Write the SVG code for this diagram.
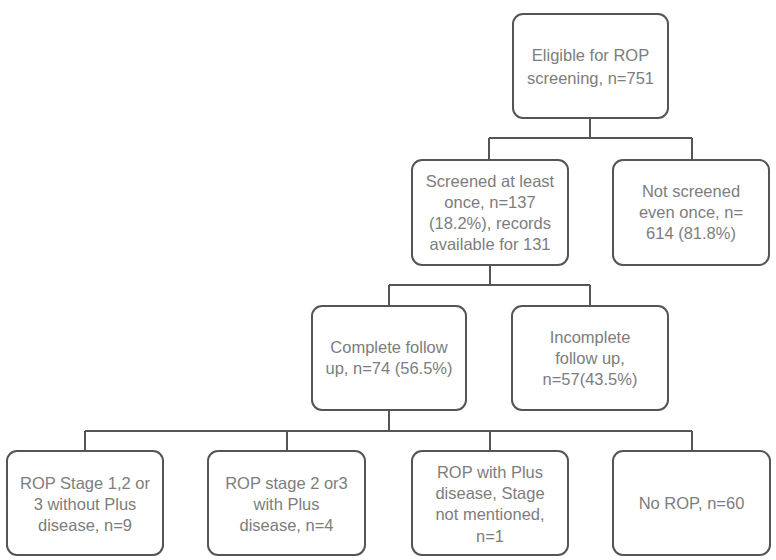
<svg xmlns="http://www.w3.org/2000/svg" width="776" height="560" viewBox="0 0 776 560">
<style>
.box{fill:#fff;stroke:#555;stroke-width:2}
.t{font-family:"Liberation Sans",Arial,sans-serif;font-size:16.5px;fill:#7d7d7d;text-anchor:middle}
.c{fill:none;stroke:#555;stroke-width:2}
</style>
<rect width="776" height="560" fill="#fff"/>
<g id="connectors">
<path class="c" d="M590 118V138M489 138H692M489 138V160M692 138V160"/>
<path class="c" d="M490 265V285M389 285H590M389 285V306M590 285V306"/>
<path class="c" d="M389 410V431M85 431H692M85 431V451M287 431V451M490 431V451M692 431V451"/>
</g>
<g id="n1"><rect class="box" x="513" y="14" width="155" height="104" rx="10"/>
<text class="t" x="590.5" y="61">Eligible for ROP</text><text class="t" x="590.5" y="84">screening, n=751</text></g>
<g id="n2"><rect class="box" x="412" y="160" width="156" height="105" rx="10"/>
<text class="t" x="490" y="187">Screened at least</text><text class="t" x="490" y="208">once, n=137</text><text class="t" x="490" y="229">(18.2%), records</text><text class="t" x="490" y="250">available for 131</text></g>
<g id="n3"><rect class="box" x="613" y="160" width="156" height="105" rx="10"/>
<text class="t" x="691" y="197">Not screened</text><text class="t" x="691" y="218">even once, n=</text><text class="t" x="691" y="239">614 (81.8%)</text></g>
<g id="n4"><rect class="box" x="312" y="306" width="154" height="104" rx="10"/>
<text class="t" x="389" y="353">Complete follow</text><text class="t" x="389" y="374">up, n=74 (56.5%)</text></g>
<g id="n5"><rect class="box" x="512" y="306" width="156" height="104" rx="10"/>
<text class="t" x="590" y="343">Incomplete</text><text class="t" x="590" y="364">follow up,</text><text class="t" x="590" y="385">n=57(43.5%)</text></g>
<g id="n6"><rect class="box" x="7" y="451" width="156" height="104" rx="10"/>
<text class="t" x="85" y="489">ROP Stage 1,2 or</text><text class="t" x="85" y="510">3 without Plus</text><text class="t" x="85" y="531">disease, n=9</text></g>
<g id="n7"><rect class="box" x="208" y="451" width="157" height="104" rx="10"/>
<text class="t" x="286.5" y="489">ROP stage 2 or3</text><text class="t" x="286.5" y="510">with Plus</text><text class="t" x="286.5" y="531">disease, n=4</text></g>
<g id="n8"><rect class="box" x="412" y="451" width="156" height="104" rx="10"/>
<text class="t" x="490" y="478">ROP with Plus</text><text class="t" x="490" y="499">disease, Stage</text><text class="t" x="490" y="520">not mentioned,</text><text class="t" x="490" y="542">n=1</text></g>
<g id="n9"><rect class="box" x="613" y="451" width="157" height="104" rx="10"/>
<text class="t" x="691.5" y="509">No ROP, n=60</text></g>
</svg>
